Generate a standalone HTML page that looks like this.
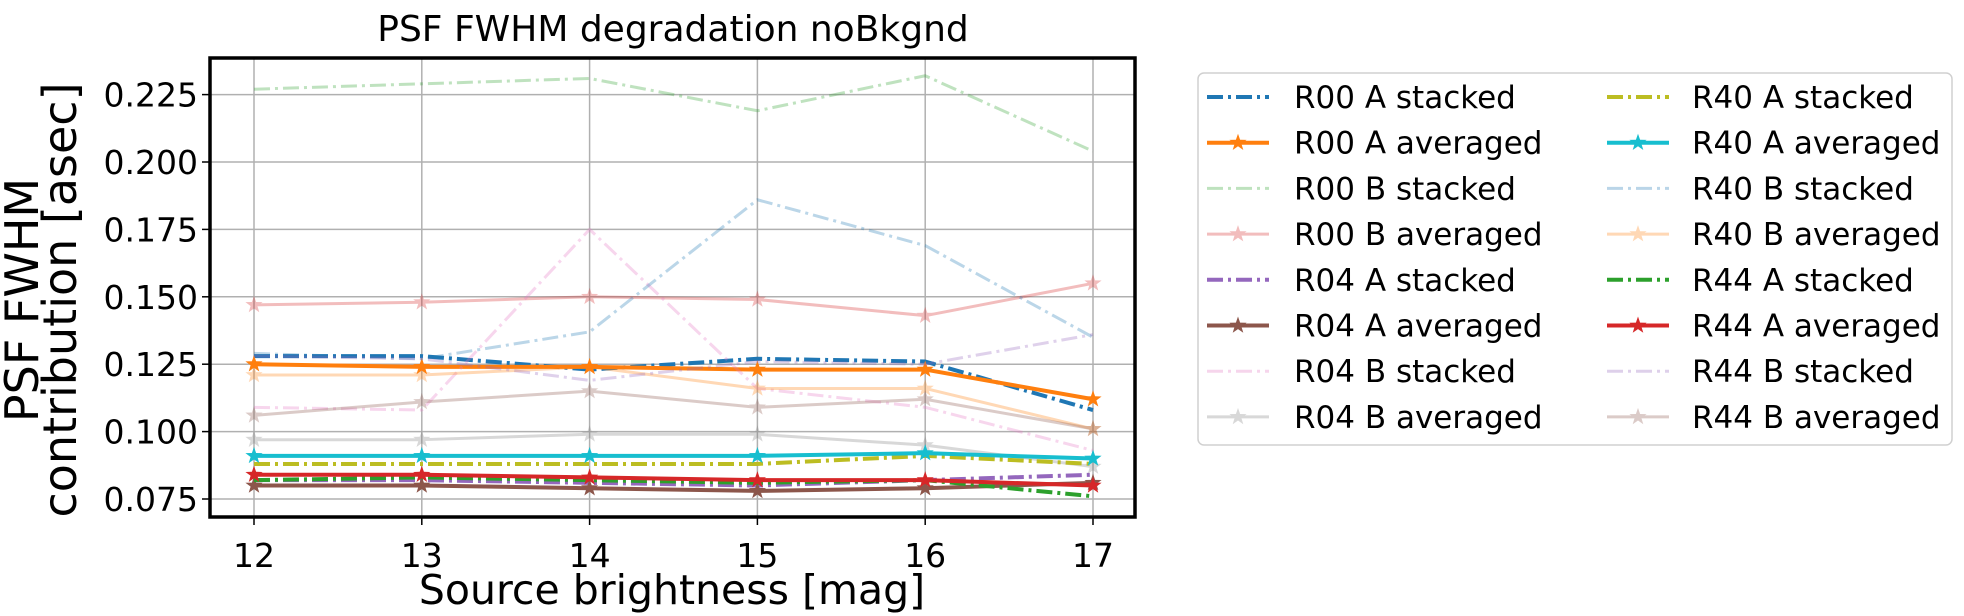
<!DOCTYPE html>
<html><head><meta charset="utf-8"><style>
body{margin:0;background:#fff;}
svg{display:block;font-family:"DejaVu Sans","Liberation Sans",sans-serif;}
</style></head><body>
<svg id="chart" width="1964" height="616" viewBox="0 0 1964 616"></svg>
<script>
const xValues=[12,13,14,15,16,17];
const xTicks=[12,13,14,15,16,17];
const yTicks=[0.075,0.100,0.125,0.150,0.175,0.200,0.225];
const seriesNames=["R00 A stacked","R00 A averaged","R00 B stacked","R00 B averaged","R04 A stacked","R04 A averaged","R04 B stacked","R04 B averaged","R40 A stacked","R40 A averaged","R40 B stacked","R40 B averaged","R44 A stacked","R44 A averaged","R44 B stacked","R44 B averaged"];
const r00As=[0.128,0.128,0.123,0.127,0.126,0.108];
const r00Aa=[0.125,0.124,0.124,0.123,0.123,0.112];
const r00Bs=[0.227,0.229,0.231,0.219,0.232,0.204];
const r00Ba=[0.147,0.148,0.150,0.149,0.143,0.155];
const r04As=[0.082,0.082,0.081,0.080,0.082,0.084];
const r04Aa=[0.080,0.080,0.079,0.078,0.079,0.081];
const r04Bs=[0.109,0.108,0.175,0.116,0.109,0.093];
const r04Ba=[0.097,0.097,0.099,0.099,0.095,0.087];
const r40As=[0.088,0.088,0.088,0.088,0.091,0.088];
const r40Aa=[0.091,0.091,0.091,0.091,0.092,0.090];
const r40Bs=[0.129,0.127,0.137,0.186,0.169,0.135];
const r40Ba=[0.121,0.121,0.124,0.116,0.116,0.101];
const r44As=[0.082,0.083,0.082,0.081,0.082,0.076];
const r44Aa=[0.084,0.084,0.083,0.082,0.082,0.080];
const r44Bs=[0.128,0.127,0.119,0.126,0.125,0.136];
const r44Ba=[0.106,0.111,0.115,0.109,0.112,0.101];
const seriesValues=[r00As,r00Aa,r00Bs,r00Ba,r04As,r04Aa,r04Bs,r04Ba,r40As,r40Aa,r40Bs,r40Ba,r44As,r44Aa,r44Bs,r44Ba];
const colors=["#1f77b4","#ff7f0e","#2ca02c","#d62728","#9467bd","#8c564b","#e377c2","#7f7f7f","#bcbd22","#17becf","#1f77b4","#ff7f0e","#2ca02c","#d62728","#9467bd","#8c564b"];

const L=210,R=1135,T=58,B=517;
const X0=254,XU=167.8,Y0=499,YU=67.4/0.025;
const sx=v=>X0+(v-12)*XU;
const sy=v=>Y0-(v-0.075)*YU;
const NS="http://www.w3.org/2000/svg";
const svg=document.getElementById('chart');
function mk(tag,attrs,parent){const e=document.createElementNS(NS,tag);for(const k in attrs)e.setAttribute(k,attrs[k]);(parent||svg).appendChild(e);return e;}
function star(cx,cy,r){let p=[];for(let i=0;i<10;i++){const a=-Math.PI/2+i*Math.PI/5;const rr=i%2?r*0.4:r;p.push((cx+rr*Math.cos(a)).toFixed(1)+","+(cy+rr*Math.sin(a)).toFixed(1));}return p.join(" ");}

xTicks.forEach(t=>{const g=mk('line',{x1:sx(t),x2:sx(t),y1:T,y2:B,stroke:'#b0b0b0','stroke-width':1.5});});
yTicks.forEach(t=>{const g=mk('line',{x1:L,x2:R,y1:sy(t),y2:sy(t),stroke:'#b0b0b0','stroke-width':1.5});});

seriesValues.forEach((vals,i)=>{
  const stacked=i%2===0;
  const isB=Math.floor(i/2)%2===1;
  const col=colors[i];
  const g=mk('g',{opacity:isB?0.3:1});
  
  
  const pts=vals.map((v,j)=>sx(xValues[j])+","+sy(v)).join(" ");
  const pl=mk('polyline',{points:pts,fill:'none',stroke:col,'stroke-width':isB?3:4,'stroke-dasharray':stacked?'16,5,3,5':'none','stroke-linejoin':'round'},g);
  
  
  if(!stacked){vals.forEach((v,j)=>{const s=mk('polygon',{points:star(sx(xValues[j]),sy(v),9),fill:col},g);
    
    });}
});

mk('rect',{x:L,y:T,width:R-L,height:B-T,fill:'none',stroke:'#000','stroke-width':3.5,});
xTicks.forEach(t=>{mk('line',{x1:sx(t),x2:sx(t),y1:B,y2:B+8,stroke:'#000','stroke-width':1.5});
  const tx=mk('text',{x:sx(t),y:567,'font-size':33,'text-anchor':'middle',fill:'#000'});tx.textContent=t;
  });
yTicks.forEach(t=>{mk('line',{x1:L-8,x2:L,y1:sy(t),y2:sy(t),stroke:'#000','stroke-width':1.5});
  const tx=mk('text',{x:198,y:sy(t)+12,'font-size':33,'text-anchor':'end',fill:'#000'});tx.textContent=t.toFixed(3);
  });
</script>
<script>
(function(){
const svg=document.getElementById('chart');const NS="http://www.w3.org/2000/svg";
function mk(tag,attrs){const e=document.createElementNS(NS,tag);for(const k in attrs)e.setAttribute(k,attrs[k]);svg.appendChild(e);return e;}
let t=mk('text',{x:673,y:41,'font-size':36,'text-anchor':'middle'});t.textContent="PSF FWHM degradation noBkgnd";

t=mk('text',{x:672,y:604,'font-size':41,'text-anchor':'middle'});t.textContent="Source brightness [mag]";

t=mk('text',{x:0,y:0,'font-size':46,'text-anchor':'middle',transform:'translate(38,300) rotate(-90)'});t.textContent="PSF FWHM";

t=mk('text',{x:0,y:0,'font-size':46,'text-anchor':'middle',transform:'translate(76,300) rotate(-90)'});t.textContent="contribution [asec]";

const lg=mk('rect',{x:1198,y:73,width:754,height:372,rx:6,fill:'#fff',stroke:'#d0d0d0','stroke-width':1.5});

function starP(cx,cy,r){let p=[];for(let i=0;i<10;i++){const a=-Math.PI/2+i*Math.PI/5;const rr=i%2?r*0.4:r;p.push((cx+rr*Math.cos(a)).toFixed(1)+","+(cy+rr*Math.sin(a)).toFixed(1));}return p.join(" ");}
seriesNames.forEach((n,i)=>{
  const col=i<8?0:1,row=i%8;
  const y=97+row*45.7;
  const hx=col?1607:1207,tx=col?1692:1294;
  const stacked=i%2===0,isB=Math.floor(i/2)%2===1;
  const g=document.createElementNS(NS,'g');g.setAttribute('opacity',isB?0.3:1);svg.appendChild(g);
  
  const l=document.createElementNS(NS,'line');
  [['x1',hx],['x2',hx+62],['y1',y],['y2',y],['stroke',colors[i]],['stroke-width',isB?3:4],['stroke-dasharray',stacked?'16,5,3,5':'none']].forEach(a=>l.setAttribute(a[0],a[1]));g.appendChild(l);
  if(!stacked){const s=document.createElementNS(NS,'polygon');s.setAttribute('points',starP(hx+31,y,9));s.setAttribute('fill',colors[i]);g.appendChild(s);}
  const te=mk('text',{x:tx,y:y+11,'font-size':31});te.textContent=n;
  
});
})();
</script>
</body></html>
